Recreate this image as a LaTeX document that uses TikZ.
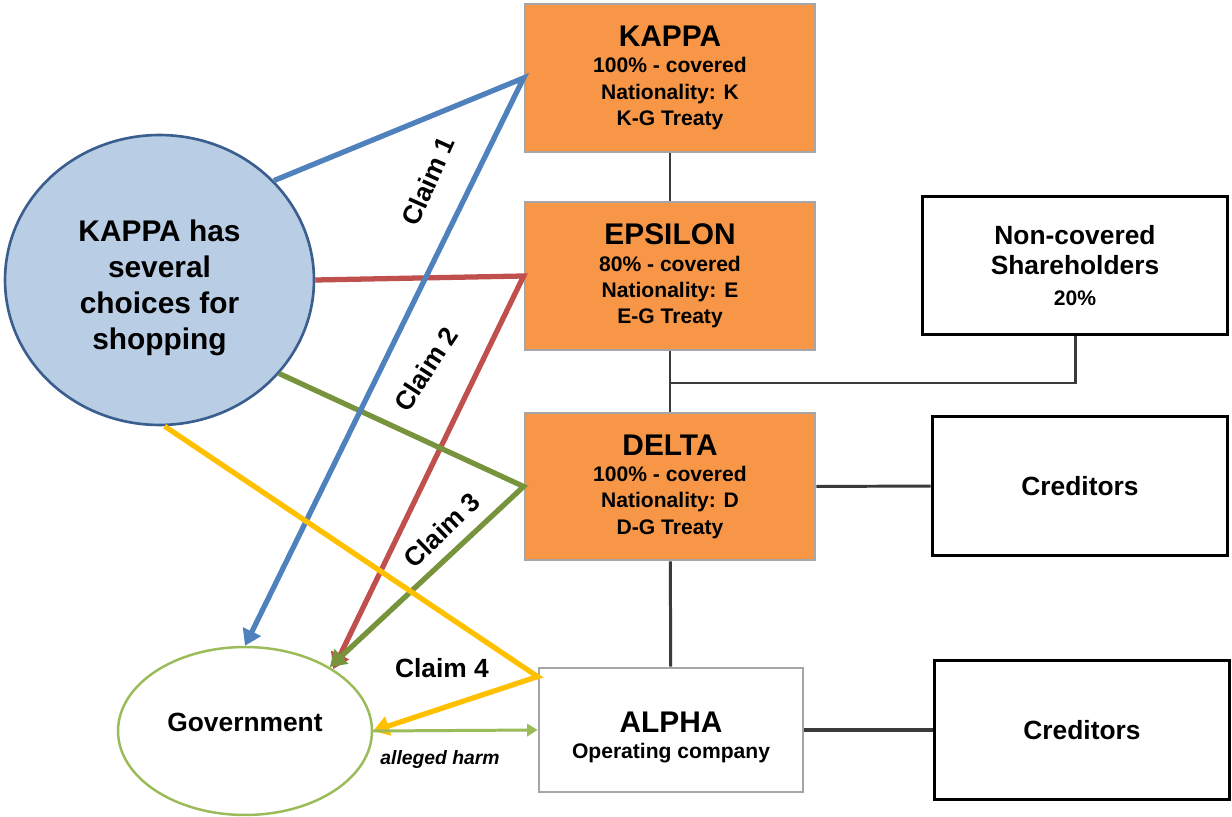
\documentclass[tikz,border=0pt]{standalone}
\usepackage{fontspec}
\setmainfont{Liberation Sans}
\usetikzlibrary{arrows.meta,shapes.geometric}
\definecolor{orangefill}{HTML}{F79646}
\definecolor{framegray}{HTML}{A6A6A6}
\definecolor{shopfill}{HTML}{B9CDE5}
\definecolor{shopdraw}{HTML}{3A5F8F}
\definecolor{claimblue}{HTML}{4F81BD}
\definecolor{claimred}{HTML}{C0504D}
\definecolor{claimgreen}{HTML}{77933C}
\definecolor{claimyellow}{HTML}{FFC000}
\definecolor{harmgreen}{HTML}{9BBB59}
\definecolor{tiegray}{HTML}{3A3A3A}
\newcommand{\firmname}[1]{{\fontsize{17}{15}\selectfont #1}}

\begin{document}
\begin{tikzpicture}[x=0.02cm,y=-0.02cm]

    \tikzset{
      company/.style={
        draw={framegray},
        line width=1.6pt,
        fill={orangefill},
        minimum width=5.8cm,
        minimum height=2.96cm,
        align=center,
        inner sep=0pt,
        font=\bfseries\fontsize{12}{15}\selectfont,
      },
      holder/.style={
        draw={black},
        line width=1.7pt,
        fill=white,
        minimum width=5.92cm,
        minimum height=2.8cm,
        align=center,
        inner sep=0pt,
        font=\bfseries\fontsize{15}{17.5}\selectfont,
      },
      claim/.style={line width=3pt,-{Triangle[length=9pt,width=11pt]}},
      claimtext/.style={font=\bfseries\fontsize{15}{18}\selectfont,inner sep=0pt},
      tie/.style={color={tiegray},line width=1.7pt},
    }
    \useasboundingbox[fill=white] (0,0) rectangle (1232,817);

	\node[company] (kappa) at (670,78) {\firmname{KAPPA}\\100\% - covered\\Nationality: K\\K-G Treaty};
	\node[company] (epsilon) at (670,276) {\firmname{EPSILON}\\80\% - covered\\Nationality: E\\E-G Treaty};
	\node[company,minimum height=2.94cm] (delta) at (670,486.5) {\firmname{DELTA}\\100\% - covered\\Nationality: D\\D-G Treaty};
	\node[company,fill=white,minimum width=5.28cm,minimum height=2.48cm] (alpha) at (671,730) {\rule{0pt}{20pt}\firmname{ALPHA}\\Operating company};
	\node[holder,minimum width=6.12cm,minimum height=2.78cm] (noncov) at (1075,265.5) {Non-covered\\Shareholders\\{\fontsize{12}{17.5}\selectfont 20\%}};
	\node[holder] (cred1) at (1080,486) {Creditors};
	\node[holder] (cred2) at (1082,730) {Creditors};
	\node[ellipse,draw={shopdraw},line width=1.5pt,fill={shopfill},minimum width=6.18cm,minimum height=5.8cm,inner sep=0pt,align=center,font=\bfseries\fontsize{17}{20.4}\selectfont] (shop) at (159.5,280) {\rule{0pt}{21pt}KAPPA has\\several\\choices for\\shopping};
	\node[ellipse,draw={harmgreen},line width=1.4pt,minimum width=5.08cm,minimum height=3.36cm,font=\bfseries\fontsize{15}{18}\selectfont] (gov) at (245,731) {\rule[-10pt]{0pt}{10pt}Government};

	\draw[tie] (kappa) -- (epsilon);
	\draw[tie] (epsilon) -- (delta);
	\draw[tie] (delta) -- (alpha);
	\coordinate (split) at (670,383);
	\draw[tie] (noncov.south) |- (split);
	\draw[tie] (delta) -- (cred1);
	\draw[tie,line width=2.2pt] (alpha) -- (cred2);

	\draw[claim,color={claimred}] (shop.east) -- (epsilon.west) -- (gov.35);
	\draw[claim,color={claimgreen}] (shop.-38) -- (delta.west) -- (gov.37);
	\draw[claim,color={claimblue}] (shop.41) -- (kappa.west) -- (gov.north);
	\draw[claim,color={claimyellow}] (shop.-88) -- ([yshift=-0.2cm]alpha.north west) -- (gov.east);
	\draw[color={harmgreen},line width=1.7pt,-{Triangle[length=6pt,width=7pt]}] (gov.east) -- (alpha.west);

	\node[claimtext,rotate=66] (claim1) at (428,181) {Claim 1};
	\node[claimtext,rotate=57] (claim2) at (426,369) {Claim 2};
	\node[claimtext,rotate=44] (claim3) at (442,530) {Claim 3};
	\node[claimtext] (claim4) at (442,668) {Claim 4};
	\node[font=\bfseries\itshape\fontsize{11}{13}\selectfont] (harm) at (440,760) {alleged harm};

\end{tikzpicture}
\end{document}
